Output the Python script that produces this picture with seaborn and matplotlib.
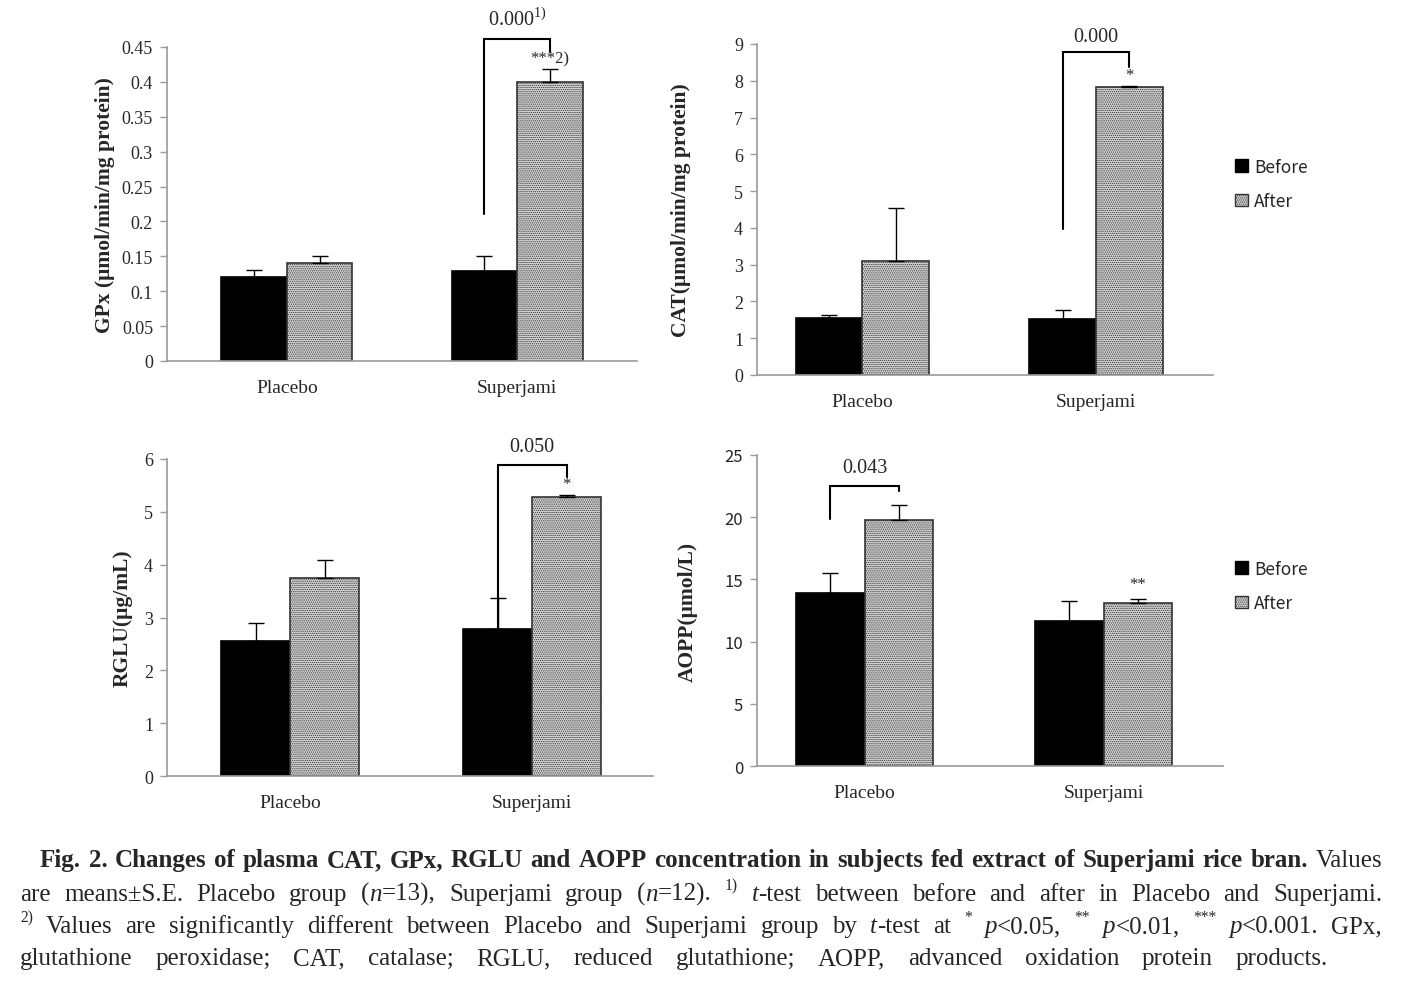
import numpy as np
import pandas as pd
import seaborn as sns
import matplotlib.pyplot as plt
from matplotlib.patches import Patch
from matplotlib.ticker import FuncFormatter

W, H = 1407, 987
SERIF = ['Liberation Serif', 'DejaVu Serif']
SANS = ['Noto Sans CJK KR', 'DejaVu Sans']
AFTER_FILL = '#d4d4d4'
AFTER_HATCH = '........'
AXIS_GRAY = '#9a9a9a'

groups = ['Placebo', 'Superjami']

gpx_before = [0.12, 0.129]
gpx_after = [0.14, 0.40]
gpx_before_se = [0.01, 0.021]
gpx_after_se = [0.01, 0.018]

cat_before = [1.55, 1.52]
cat_after = [3.10, 7.82]
cat_before_se = [0.08, 0.25]
cat_after_se = [1.44, 0.03]

rglu_before = [2.56, 2.78]
rglu_after = [3.75, 5.28]
rglu_before_se = [0.34, 0.59]
rglu_after_se = [0.34, 0.04]

aopp_before = [13.9, 11.66]
aopp_after = [19.8, 13.1]
aopp_before_se = [1.6, 1.6]
aopp_after_se = [1.2, 0.3]

sns.set_theme(style='white')
plt.rcParams['font.family'] = SERIF
plt.rcParams['mathtext.fontset'] = 'custom'
plt.rcParams['mathtext.rm'] = 'Liberation Serif'
plt.rcParams['hatch.linewidth'] = 0.6

fig = plt.figure(figsize=(W / 100, H / 100), dpi=100)


def draw_panel(box, before, after, before_se, after_se, ymax, ystep, ylabel,
               label_off, xlim, tick_family=SERIF, tick_size=13):
    left, top, right, bottom = box
    ax = fig.add_axes([left / W, 1 - bottom / H, (right - left) / W, (bottom - top) / H])
    df = pd.DataFrame({
        'group': groups * 2,
        'time': ['Before'] * len(groups) + ['After'] * len(groups),
        'value': before + after,
    })
    sns.barplot(data=df, x='group', y='value', hue='time', hue_order=['Before', 'After'],
                palette={'Before': 'black', 'After': AFTER_FILL}, width=0.57,
                errorbar=None, legend=False, edgecolor='black', linewidth=1.2, ax=ax)
    bars = list(ax.containers[:2])
    for p in bars[1]:
        p.set_hatch(AFTER_HATCH)
        p.set_edgecolor('#333333')

    # only the upper half of the S.E. bar, like the Excel original
    for cont, se in zip(bars, [before_se, after_se]):
        xs = [p.get_x() + p.get_width() / 2 for p in cont]
        ys = [p.get_height() for p in cont]
        ax.errorbar(xs, ys, yerr=[np.zeros(len(se)), se], fmt='none', ecolor='black',
                    elinewidth=1, capsize=6, capthick=1, zorder=3)

    ax.set_xlim(*xlim)
    ax.set_ylim(0, ymax)
    ax.set_yticks(np.arange(0, ymax + ystep / 2, ystep))
    ax.yaxis.set_major_formatter(FuncFormatter(lambda v, _: f'{v:g}'))
    sns.despine(ax=ax)
    for side in ['left', 'bottom']:
        ax.spines[side].set_color(AXIS_GRAY)
        ax.spines[side].set_linewidth(1.2)
    ax.tick_params(axis='y', left=True, length=5, width=1, color=AXIS_GRAY, pad=5,
                   labelsize=tick_size)
    for lab in ax.get_yticklabels():
        lab.set_family(tick_family)
    ax.tick_params(axis='x', length=0, pad=13, labelsize=14)
    ax.set_xlabel('')
    ax.set_ylabel(ylabel, fontsize=15.5, fontweight='bold')
    ax.yaxis.set_label_coords(-label_off / (right - left), 0.5)
    return ax, bars


def bracket(ax, bars, g, low, top, right_low, text, text_y):
    xl = bars[0][g].get_x() + bars[0][g].get_width() / 2
    xr = bars[1][g].get_x() + bars[1][g].get_width() / 2
    ax.plot([xl, xl, xr, xr], [low, top, top, right_low], color='black', lw=1.5,
            clip_on=False, zorder=4, solid_joinstyle='miter')
    ax.text((xl + xr) / 2, text_y, text, ha='center', va='center', fontsize=14.5,
            clip_on=False)


def star(ax, bars, g, text, y):
    x = bars[1][g].get_x() + bars[1][g].get_width() / 2
    ax.text(x, y, text, ha='center', va='center', fontsize=12, clip_on=False)


# GPx
ax, bars = draw_panel((167, 48, 637, 362), gpx_before, gpx_after, gpx_before_se, gpx_after_se,
                      0.45, 0.05, 'GPx (μmol/min/mg protein)', 52, (-0.52, 1.52))
bracket(ax, bars, 1, 0.211, 0.461, 0.443, r'0.000$^{\mathrm{1)}}$', 0.490)
star(ax, bars, 1, '***2)', 0.434)

# CAT
ax, bars = draw_panel((757, 45, 1213, 376), cat_before, cat_after, cat_before_se, cat_after_se,
                      9, 1, 'CAT(μmol/min/mg protein)', 66, (-0.45, 1.5))
bracket(ax, bars, 1, 3.97, 8.78, 8.37, '0.000', 9.21)
star(ax, bars, 1, '*', 8.16)

# RGLU
ax, bars = draw_panel((167, 460, 653, 777), rglu_before, rglu_after, rglu_before_se, rglu_after_se,
                      6, 1, 'RGLU(μg/mL)', 34, (-0.51, 1.5))
bracket(ax, bars, 1, 2.78, 5.89, 5.66, '0.050', 6.23)
star(ax, bars, 1, '*', 5.53)

# AOPP
ax, bars = draw_panel((757, 456, 1223, 767), aopp_before, aopp_after, aopp_before_se, aopp_after_se,
                      25, 5, 'AOPP(μmol/L)', 59, (-0.45, 1.5), tick_family=SANS, tick_size=12)
bracket(ax, bars, 0, 19.86, 22.5, 22.1, '0.043', 24.0)
star(ax, bars, 1, '**', 14.6)

handles = [Patch(facecolor='black', edgecolor='black', label='Before'),
           Patch(facecolor=AFTER_FILL, edgecolor='#333333', hatch=AFTER_HATCH, label='After')]
for top_px in [150, 552]:
    fig.legend(handles=handles, loc='upper left', bbox_to_anchor=(1226 / W, 1 - top_px / H),
               frameon=False, prop={'family': SANS, 'size': 12.5}, handlelength=0.75,
               handleheight=0.75, handletextpad=0.35, labelspacing=0.95, borderpad=0)

# caption, justified word by word
STYLE = {
    'r': {'font': {}, 'scale': 1.0, 'rise': 0.0},
    'b': {'font': {'fontweight': 'bold'}, 'scale': 1.0, 'rise': 0.0},
    'i': {'font': {'fontstyle': 'italic'}, 'scale': 1.0, 'rise': 0.0},
    's': {'font': {}, 'scale': 0.62, 'rise': 0.42},
}

CAPTION = [
    (40, 1382, 867, [('b', 'Fig. 2. Changes of plasma CAT, GPx, RGLU and AOPP concentration in '
                           'subjects fed extract of Superjami rice bran.'), ('r', ' Values')]),
    (20, 1382, 901, [('r', 'are means±S.E. Placebo group ('), ('i', 'n'), ('r', '=13), Superjami group ('),
                     ('i', 'n'), ('r', '=12). '), ('s', '1)'), ('r', ' '), ('i', 't'),
                     ('r', '-test between before and after in Placebo and Superjami.')]),
    (20, 1382, 933, [('s', '2)'), ('r', ' Values are significantly different between Placebo and '
                                        'Superjami group by '), ('i', 't'), ('r', '-test at '),
                     ('s', '*'), ('r', ' '), ('i', 'p'), ('r', '<0.05, '), ('s', '**'), ('r', ' '),
                     ('i', 'p'), ('r', '<0.01, '), ('s', '***'), ('r', ' '), ('i', 'p'),
                     ('r', '<0.001. GPx,')]),
    (20, 1328, 965, [('r', 'glutathione peroxidase; CAT, catalase; RGLU, reduced glutathione; AOPP, '
                           'advanced oxidation protein products.')]),
]


def caption_words(segs):
    words = [[]]
    for style, text in segs:
        for k, piece in enumerate(text.split(' ')):
            if k:
                words.append([])
            if piece:
                words[-1].append((style, piece))
    return [w for w in words if w]


renderer = fig.canvas.get_renderer()


def width_of(style, s, size):
    t = fig.text(0, 0, s, fontsize=size * STYLE[style]['scale'], **STYLE[style]['font'])
    w = t.get_window_extent(renderer).width
    t.remove()
    return w


base = 18.0
fit = 1.0
for x0, x1, y, segs in CAPTION:
    words = caption_words(segs)
    natural = sum(width_of(st, s, base) for w in words for st, s in w)
    natural += 0.2 * base * 100 / 72 * (len(words) - 1)
    fit = min(fit, (x1 - x0) / natural)
size = base * fit

for x0, x1, y, segs in CAPTION:
    words = caption_words(segs)
    widths = [[width_of(st, s, size) for st, s in w] for w in words]
    gap = (x1 - x0 - sum(map(sum, widths))) / (len(words) - 1)
    x = x0
    for w, ws in zip(words, widths):
        for (st, s), pw in zip(w, ws):
            rise = STYLE[st]['rise'] * size * 100 / 72
            fig.text(x / W, 1 - (y - rise) / H, s, fontsize=size * STYLE[st]['scale'],
                     va='baseline', ha='left', **STYLE[st]['font'])
            x += pw
        x += gap

fig.savefig('out.png', dpi=100, facecolor='white')
